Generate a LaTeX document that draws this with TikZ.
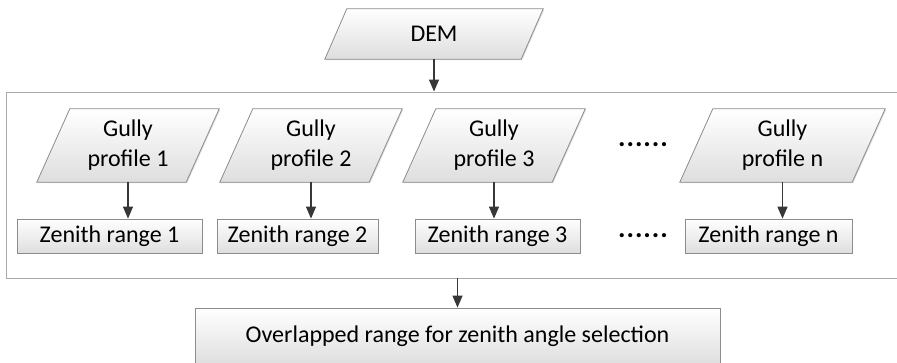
\documentclass[tikz,border=0pt]{standalone}
\usepackage{fontspec}
\setmainfont{Carlito}
\usetikzlibrary{arrows.meta,shadows,backgrounds}
\definecolor{edgeColor}{RGB}{140,140,140}
\definecolor{frameColor}{RGB}{170,170,170}
\definecolor{shadeColor}{RGB}{222,222,222}
\definecolor{arrowColor}{RGB}{55,55,55}
\tikzset{
  boxFont/.style={font=\fontsize{24}{30}\selectfont},
  softShadow/.style={drop shadow={shadow xshift=1pt,shadow yshift=-1pt,opacity=0.25,fill=gray}},
  inputText/.style={rectangle,align=center,inner sep=0pt,boxFont},
  inputShape/.style={draw=edgeColor,line width=0.8pt,top color=white,
    bottom color=shadeColor,softShadow},
  rangeBox/.style={rectangle,draw=edgeColor,line width=0.8pt,top color=white,
    bottom color=shadeColor,inner sep=0pt,boxFont,softShadow},
  groupBox/.style={rectangle,draw=frameColor,line width=0.9pt,fill=white,inner sep=0pt,softShadow},
  dotRow/.style={inner sep=0pt,font=\fontsize{28}{30}\selectfont\bfseries},
  flowArrow/.style={draw=arrowColor,line width=1.3pt,-{Triangle[length=12pt,width=10pt]}}
}
\begin{document}
\begin{tikzpicture}[x=1pt,y=1pt]
\useasboundingbox (0,0) rectangle (897,363);

\node[inputText,minimum width=218pt,minimum height=50pt] (dem) at (434,329) {DEM};

% gully profiles
\node[inputText,minimum width=182pt,minimum height=73pt] (g1) at (128,217.5) {Gully\\profile 1};
\node[inputText,minimum width=182pt,minimum height=73pt] (g2) at (311,217.5) {Gully\\profile 2};
\node[inputText,minimum width=182pt,minimum height=73pt] (g3) at (494,217.5) {Gully\\profile 3};
\node[inputText,minimum width=205pt,minimum height=73pt] (gn) at (782.5,217.5) {Gully\\profile n};

% zenith ranges
\node[rangeBox,minimum width=185pt,minimum height=34pt] (z1) at (109.5,127) {Zenith range 1};
\node[rangeBox,minimum width=161pt,minimum height=34pt] (z2) at (297.5,127) {Zenith range 2};
\node[rangeBox,minimum width=165pt,minimum height=34pt] (z3) at (497.5,127) {Zenith range 3};
\node[rangeBox,minimum width=167pt,minimum height=34pt] (zn) at (768.5,127) {Zenith range n};

\node[dotRow] (dotsTop) at (643,218) {.\kern1pt.\kern1pt.\kern1pt.\kern1pt.\kern1pt.};
\node[dotRow] (dotsBot) at (643,127) {.\kern1pt.\kern1pt.\kern1pt.\kern1pt.\kern1pt.};

\node[rangeBox,minimum width=525pt,minimum height=57pt] (out) at (457.5,26.5) {Overlapped range for zenith angle selection};

% frame and parallelograms behind the text
\begin{scope}[on background layer]
\node[groupBox,minimum width=899pt,minimum height=186pt] (grp) at (455.5,178) {};
\foreach \n/\s in {dem/22,g1/33,g2/33,g3/33,gn/33}
  \path[inputShape] ([xshift=\s]\n.north west) -- (\n.north east)
    -- ([xshift=-\s]\n.south east) -- (\n.south west) -- cycle;
\end{scope}

% connectors
\draw[flowArrow] (dem.south) -- (dem.south |- grp.north);
\draw[flowArrow] (g1.south) -- (g1.south |- z1.north);
\draw[flowArrow] (g2.south) -- (g2.south |- z2.north);
\draw[flowArrow] (g3.south) -- (g3.south |- z3.north);
\draw[flowArrow] (gn.south) -- (gn.south |- zn.north);
\draw[flowArrow] (out.north |- grp.south) -- (out.north);
\end{tikzpicture}
\end{document}
